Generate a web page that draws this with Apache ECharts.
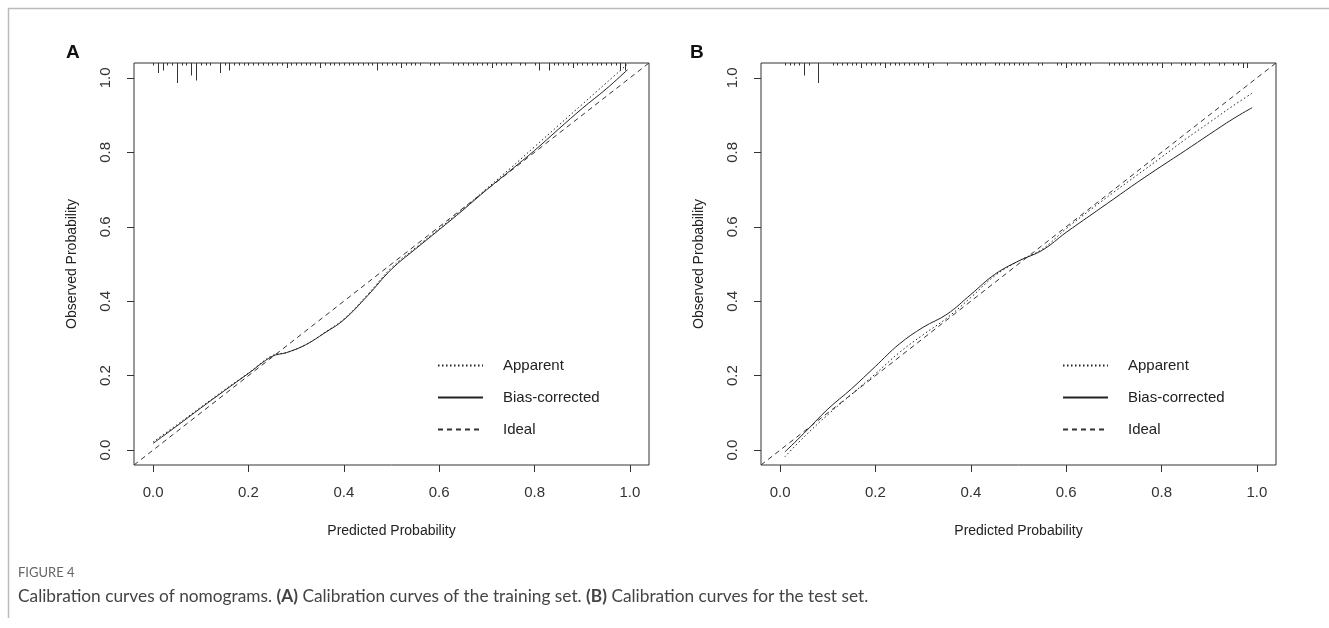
<!DOCTYPE html>
<html>
<head>
<meta charset="utf-8">
<title>Calibration curves of nomograms</title>
<script src="https://cdn.jsdelivr.net/npm/echarts@6/dist/echarts.min.js"></script>
<style>
  html, body { margin: 0; padding: 0; background: #fff; }
  #chart { width: 1329px; height: 628px; }
</style>
</head>
<body>
<div id="chart"></div>
<script>
  // tick labels shared by both panels
  const tickValues = [0, 0.2, 0.4, 0.6, 0.8, 1.0]
  const legendNames = ['Apparent', 'Bias-corrected', 'Ideal']

  // panel A: training set
  const predA = [0.0, 0.05, 0.1, 0.15, 0.2, 0.25, 0.28, 0.32, 0.36, 0.4, 0.45, 0.5, 0.55, 0.6, 0.65, 0.7, 0.75, 0.8, 0.85, 0.9, 0.95, 0.995]
  const apparentA = [0.022, 0.068, 0.115, 0.162, 0.207, 0.254, 0.262, 0.283, 0.316, 0.352, 0.418, 0.49, 0.543, 0.595, 0.648, 0.703, 0.758, 0.815, 0.872, 0.929, 0.986, 1.037]
  const biasA = [0.018, 0.065, 0.113, 0.16, 0.206, 0.252, 0.262, 0.283, 0.315, 0.35, 0.415, 0.486, 0.54, 0.592, 0.645, 0.7, 0.752, 0.805, 0.862, 0.918, 0.97, 1.022]

  // panel B: test set
  const predB = [0.01, 0.05, 0.1, 0.15, 0.2, 0.25, 0.3, 0.35, 0.4, 0.45, 0.5, 0.55, 0.6, 0.65, 0.7, 0.75, 0.8, 0.85, 0.9, 0.95, 0.99]
  const apparentB = [-0.018, 0.035, 0.095, 0.15, 0.205, 0.262, 0.31, 0.355, 0.41, 0.468, 0.508, 0.54, 0.595, 0.645, 0.693, 0.74, 0.787, 0.835, 0.88, 0.925, 0.959]
  const biasB = [-0.005, 0.045, 0.11, 0.165, 0.225, 0.285, 0.33, 0.365, 0.418, 0.472, 0.508, 0.537, 0.585, 0.63, 0.675, 0.72, 0.763, 0.805, 0.848, 0.89, 0.92]

  // ideal line runs corner to corner of the plot box
  const idealX = [-0.04, 1.04]
  const idealY = [-0.04, 1.04]

  // rug of predicted probabilities, one count per 0.01 bin (0.00 .. 0.99)
  const rugA = [
    1, 4, 3, 1, 1, 8, 1, 1, 5, 7,
    1, 1, 1, 0, 4, 1, 3, 1, 1, 1,
    1, 1, 1, 1, 1, 1, 1, 1, 2, 1,
    1, 1, 1, 1, 1, 2, 1, 1, 1, 1,
    1, 1, 1, 1, 1, 1, 1, 3, 1, 1,
    1, 1, 2, 1, 1, 1, 1, 0, 1, 1,
    1, 0, 0, 1, 1, 1, 1, 1, 1, 1,
    1, 2, 1, 1, 1, 1, 0, 1, 1, 0,
    1, 3, 0, 3, 1, 1, 1, 1, 2, 1,
    1, 1, 1, 1, 1, 1, 1, 1, 3, 3
  ]
  const rugB = [
    0, 1, 1, 1, 1, 5, 1, 0, 8, 0,
    0, 1, 1, 1, 1, 1, 1, 2, 1, 1,
    1, 1, 2, 1, 1, 1, 1, 1, 1, 1,
    1, 2, 1, 0, 0, 1, 0, 0, 1, 1,
    1, 1, 1, 1, 0, 1, 1, 1, 1, 1,
    1, 1, 1, 0, 1, 1, 0, 0, 1, 1,
    2, 1, 1, 1, 1, 1, 0, 0, 0, 1,
    1, 1, 1, 1, 1, 1, 1, 1, 1, 1,
    2, 0, 1, 0, 1, 1, 1, 1, 0, 1,
    1, 0, 1, 1, 0, 1, 1, 2, 2, 0
  ]

  const plotFont = 'Liberation Sans'
  const ink = '#222'

  function pairs (xs, ys) {
    return xs.map((x, i) => [x, ys[i]])
  }

  function rugData (counts) {
    let out = []
    counts.forEach((c, i) => {
      if (c > 0) out.push([i / 100, c])
    })
    return out
  }

  function renderRug (params, api) {
    let top = api.coord([api.value(0), 1.04])
    let x = Math.round(top[0]) + 0.5
    return {
      type: 'line',
      shape: { x1: x, y1: top[1], x2: x, y2: top[1] + api.value(1) * 2.5 },
      style: { stroke: '#333', lineWidth: 1 }
    }
  }

  function makeAxis (gridIndex, name, isY) {
    return {
      type: 'value',
      gridIndex: gridIndex,
      min: -0.04,
      max: 1.04,
      name: name,
      nameLocation: 'middle',
      nameGap: isY ? 55 : 59,
      nameTextStyle: { fontFamily: plotFont, fontSize: 14, color: ink },
      axisLine: { show: false, onZero: false },
      axisTick: {
        show: true,
        inside: false,
        length: 7,
        customValues: tickValues,
        lineStyle: { color: '#333', width: 1 }
      },
      axisLabel: {
        customValues: tickValues,
        formatter: v => v.toFixed(1),
        rotate: isY ? 90 : 0,
        margin: isY ? 21 : 20,
        fontFamily: plotFont,
        fontSize: 15,
        color: '#333'
      },
      splitLine: { show: false }
    }
  }

  function panelSeries (idx, pred, apparent, bias, rug) {
    return [
      {
        type: 'custom',
        xAxisIndex: idx,
        yAxisIndex: idx,
        silent: true,
        encode: { x: 0, y: 1 },
        data: rugData(rug),
        renderItem: renderRug
      },
      {
        name: 'Apparent',
        type: 'line',
        xAxisIndex: idx,
        yAxisIndex: idx,
        smooth: 0.4,
        symbol: 'none',
        silent: true,
        itemStyle: { color: ink },
        lineStyle: { color: ink, width: 1, type: [1.5, 2.5] },
        data: pairs(pred, apparent)
      },
      {
        name: 'Bias-corrected',
        type: 'line',
        xAxisIndex: idx,
        yAxisIndex: idx,
        smooth: 0.4,
        symbol: 'none',
        silent: true,
        itemStyle: { color: ink },
        lineStyle: { color: ink, width: 1, type: 'solid' },
        data: pairs(pred, bias)
      },
      {
        name: 'Ideal',
        type: 'line',
        xAxisIndex: idx,
        yAxisIndex: idx,
        symbol: 'none',
        silent: true,
        itemStyle: { color: '#333' },
        lineStyle: { color: '#333', width: 1, type: [5, 4] },
        data: pairs(idealX, idealY)
      }
    ]
  }

  function makeLegend (left) {
    return {
      left: left,
      top: 358,
      padding: 0,
      orient: 'vertical',
      itemWidth: 45,
      itemHeight: 14,
      itemGap: 17,
      selectedMode: false,
      data: legendNames,
      itemStyle: { opacity: 0 },
      textStyle: { fontFamily: plotFont, fontSize: 15, color: ink, padding: [0, 0, 0, 15] }
    }
  }

  let chart = echarts.init(document.getElementById('chart'))
  let option = {
    animation: false,
    backgroundColor: '#fff',
    title: [
      { text: 'A', left: 66, top: 43, padding: 0, textStyle: { fontFamily: plotFont, fontSize: 19, fontWeight: 'bold', color: '#111' } },
      { text: 'B', left: 690, top: 43, padding: 0, textStyle: { fontFamily: plotFont, fontSize: 19, fontWeight: 'bold', color: '#111' } },
      { text: 'FIGURE 4', left: 18, top: 566, padding: 0, textStyle: { fontFamily: 'Lato', fontSize: 13, fontWeight: 'normal', color: '#666' } },
      {
        text: 'Calibration curves of nomograms. {b|(A)} Calibration curves of the training set. {b|(B)} Calibration curves for the test set.',
        left: 18,
        top: 588,
        padding: 0,
        textStyle: {
          fontFamily: 'Lato',
          fontSize: 17.3,
          fontWeight: 'normal',
          color: '#444',
          rich: { b: { fontFamily: 'Lato', fontSize: 17.3, fontWeight: 'bold', color: '#444' } }
        }
      }
    ],
    graphic: [
      { type: 'line', silent: true, shape: { x1: 8, y1: 8.5, x2: 1329, y2: 8.5 }, style: { stroke: '#bbb', lineWidth: 1.5 } },
      { type: 'line', silent: true, shape: { x1: 8.5, y1: 8, x2: 8.5, y2: 618 }, style: { stroke: '#bbb', lineWidth: 1.5 } }
    ],
    legend: [makeLegend(437), makeLegend(1062)],
    grid: [
      { left: 134, top: 63, width: 515, height: 402, show: true, borderColor: '#333', borderWidth: 1 },
      { left: 761, top: 63, width: 515, height: 402, show: true, borderColor: '#333', borderWidth: 1 }
    ],
    xAxis: [
      makeAxis(0, 'Predicted Probability', false),
      makeAxis(1, 'Predicted Probability', false)
    ],
    yAxis: [
      makeAxis(0, 'Observed Probability', true),
      makeAxis(1, 'Observed Probability', true)
    ],
    series: panelSeries(0, predA, apparentA, biasA, rugA)
      .concat(panelSeries(1, predB, apparentB, biasB, rugB))
  }
  chart.setOption(option)
</script>
</body>
</html>
